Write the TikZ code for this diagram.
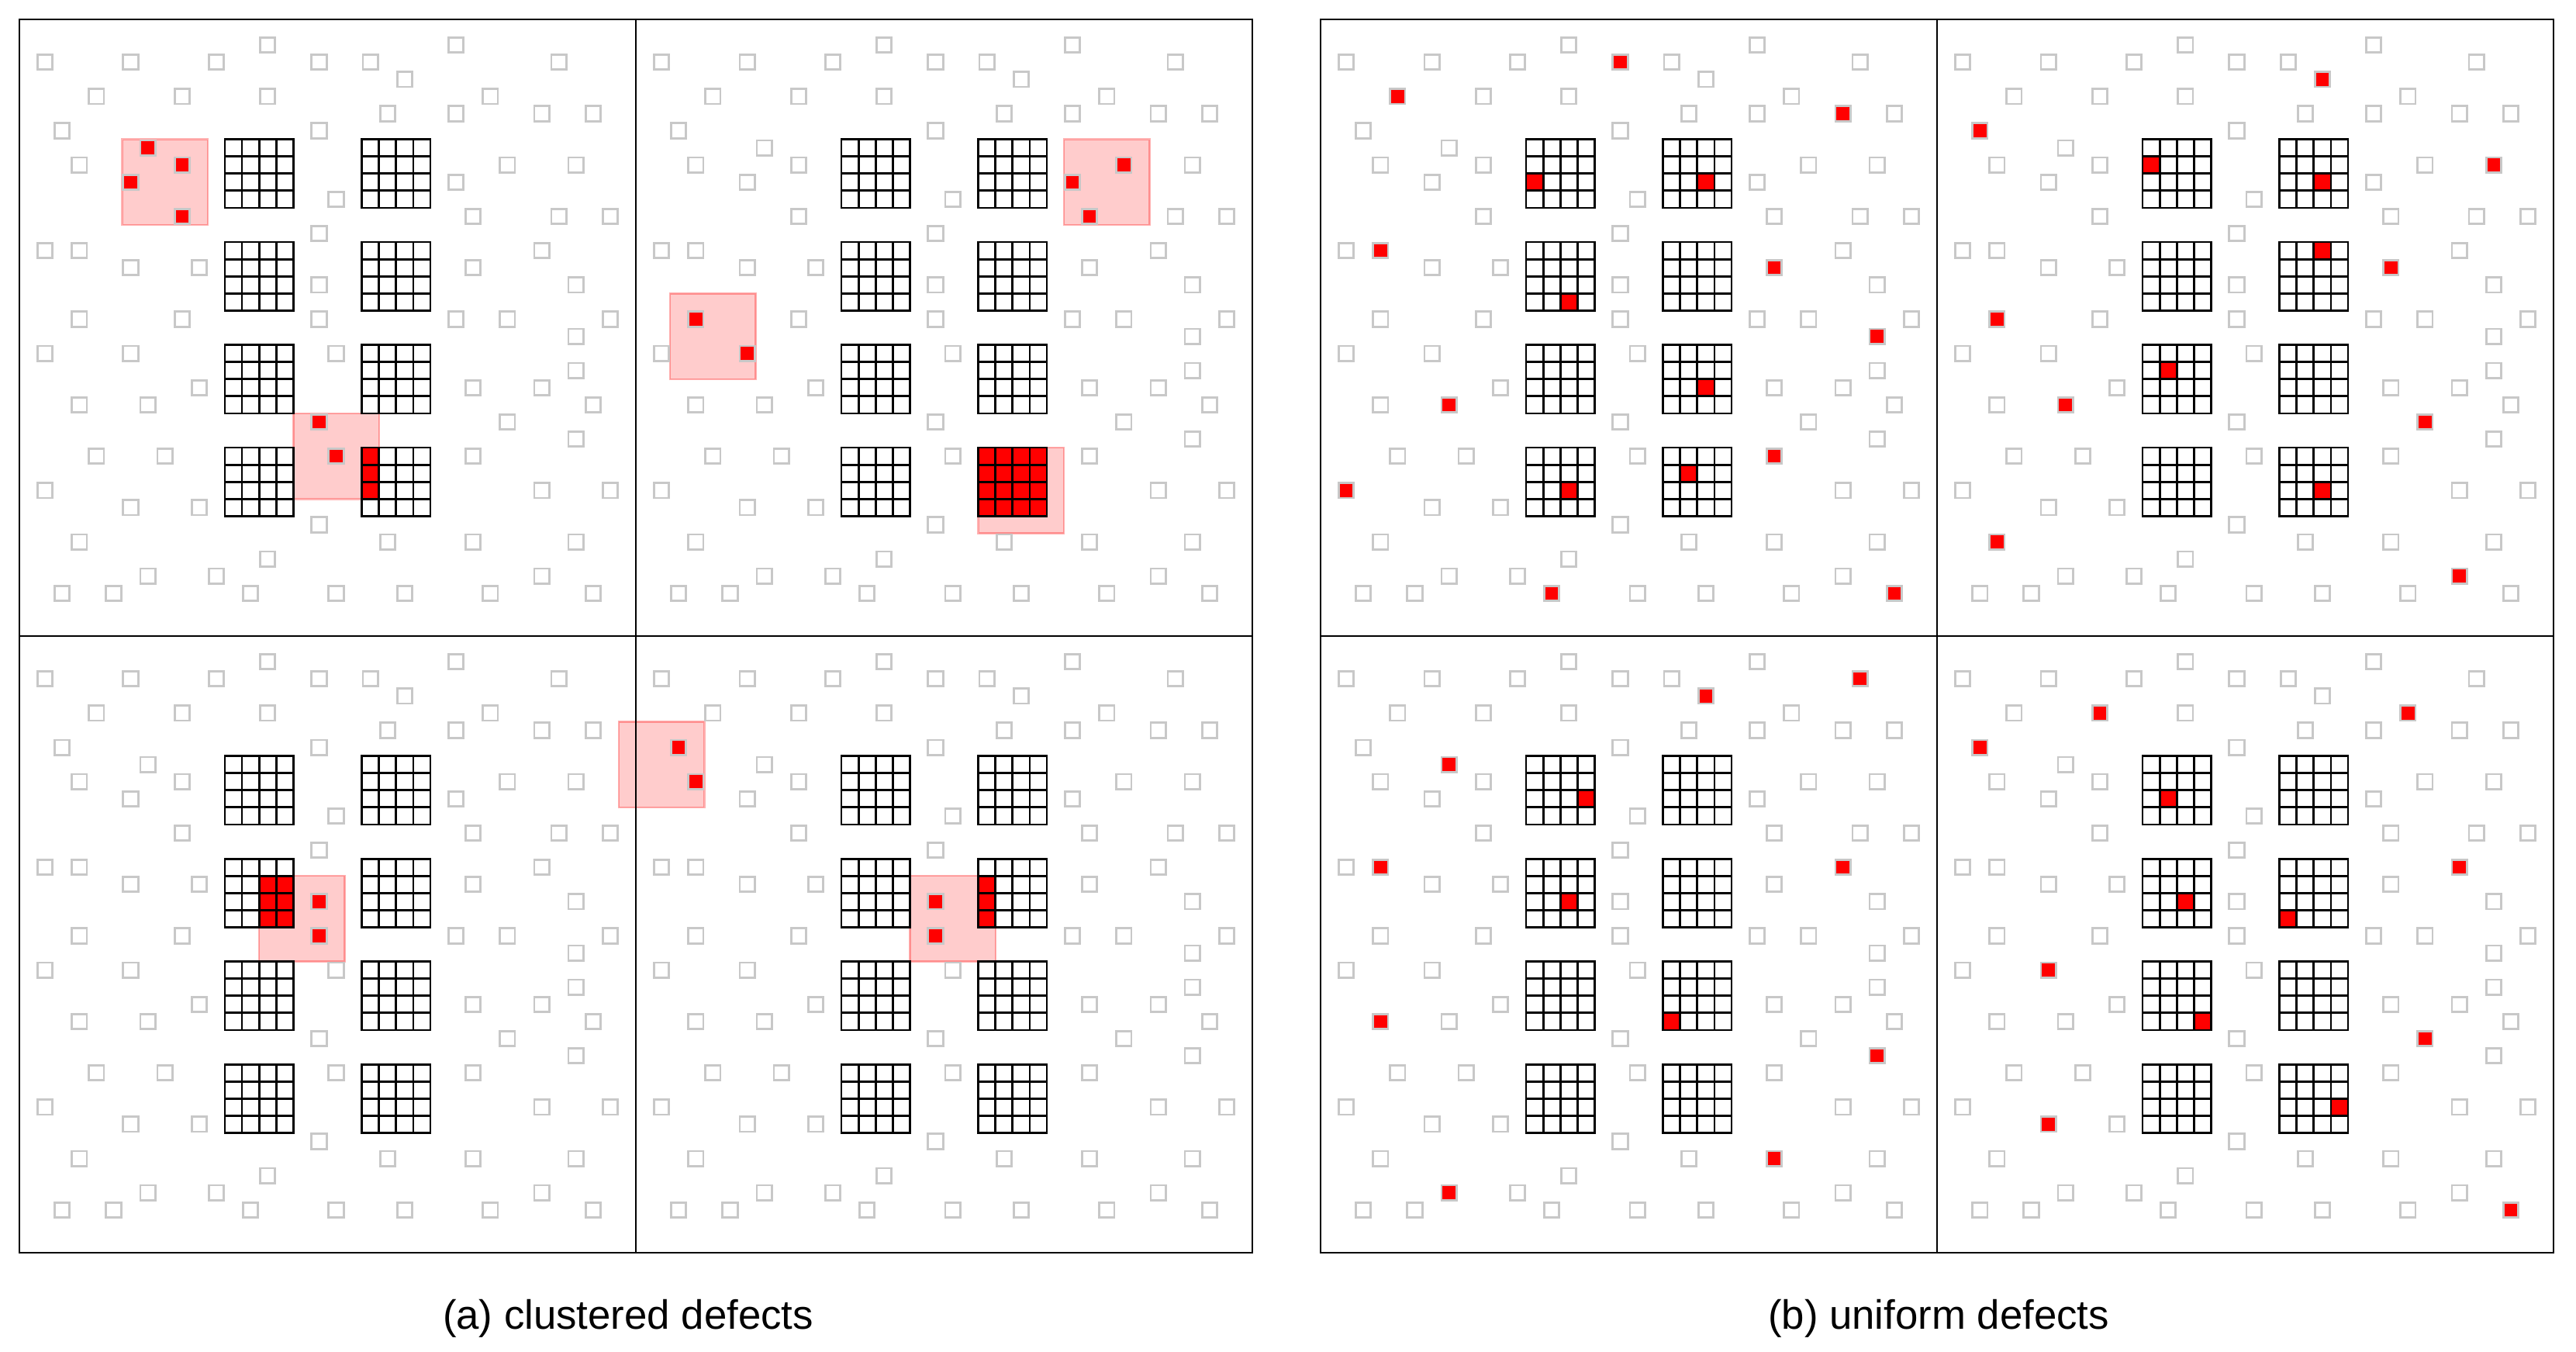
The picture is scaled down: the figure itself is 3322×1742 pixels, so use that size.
\documentclass[tikz,border=0pt]{standalone}
\usepackage{fontspec}
\setmainfont{Liberation Sans}
\definecolor{sqgrey}{RGB}{200,200,200}
\tikzset{
  greysq/.style={draw=sqgrey, line width=0.028cm},
  defect/.style={greysq, fill=red},
  gridline/.style={draw=black, line width=0.028cm, line cap=rect},
  cluster/.style={fill=red, fill opacity=0.2, draw=red, draw opacity=0.3, line width=0.024cm},
  frame/.style={draw=black, line width=0.025cm},
  caption/.style={font=\fontsize{15.0}{18}\selectfont, anchor=base, inner sep=0pt},
}
\def\greylist{14/1,25/1,1/2,6/2,11/2,17/2,20/2,31/2,22/3,4/4,9/4,14/4,27/4,21/5,25/5,30/5,33/5,2/6,17/6,7/7,3/8,9/8,28/8,32/8,6/9,25/9,18/10,9/11,26/11,31/11,34/11,17/12,1/13,3/13,30/13,6/14,10/14,26/14,17/15,32/15,3/17,9/17,17/17,25/17,28/17,34/17,32/18,1/19,6/19,18/19,32/20,10/21,26/21,30/21,3/22,7/22,33/22,17/23,28/23,32/24,4/25,8/25,18/25,26/25,1/27,30/27,34/27,6/28,10/28,17/29,3/30,21/30,26/30,32/30,14/31,7/32,11/32,30/32,2/33,5/33,13/33,18/33,22/33,27/33,33/33}
\newcommand\qgrey{%
  \foreach \c/\r in \greylist {\draw[greysq] (\c+0.063,\r+0.063) rectangle (\c+0.937,\r+0.937);}}
\newcommand\qgrids{%
  \foreach \gx in {12,20} {\foreach \gy in {7,13,19,25} {\foreach \k in {0,...,4} {
    \draw[gridline] (\gx+\k,\gy) -- (\gx+\k,\gy+4);
    \draw[gridline] (\gx,\gy+\k) -- (\gx+4,\gy+\k);}}}}
\newcommand\qdefects[1]{%
  \foreach \c/\r in {#1} {\draw[defect] (\c+0.063,\r+0.063) rectangle (\c+0.937,\r+0.937);}}
\newcommand\qcells[1]{%
  \foreach \c/\r in {#1} {\fill[red] (\c,\r) rectangle (\c+1,\r+1);}}
\newcommand\qboxes[1]{%
  \foreach \c/\r in {#1} {\draw[cluster] (\c,\r) rectangle (\c+5,\r+5);}}
\begin{document}
\begin{tikzpicture}[x=0.01cm, y=-0.01cm]
\useasboundingbox (0,0) rectangle (3322,1742);
\fill[white] (0,0) rectangle (3322,1742);
% ---------- (a) clustered defects ----------
\begin{scope}[shift={(25,25)}, scale=22.0833]
  \qboxes{6/7,16/23}
  \qgrey
  \qdefects{7/7,9/8,6/9,9/11,17/23,18/25}
  \qcells{20/25,20/26,20/27}
  \qgrids
\end{scope}
\begin{scope}[shift={(820,25)}, scale=22.0833]
  \qboxes{25/7,2/16,20/25}
  \qgrey
  \qdefects{28/8,25/9,26/11,3/17,6/19}
  \qcells{20/25,21/25,22/25,23/25,20/26,21/26,22/26,23/26,20/27,21/27,22/27,23/27,20/28,21/28,22/28,23/28}
  \qgrids
\end{scope}
\begin{scope}[shift={(25,820)}, scale=22.0833]
  \qboxes{14/14,35/5}
  \qgrey
  \qdefects{17/15,17/17}
  \qcells{14/14,15/14,14/15,15/15,14/16,15/16}
  \qgrids
\end{scope}
\begin{scope}[shift={(820,820)}, scale=22.0833]
  \qboxes{16/14}
  \qgrey
  \qdefects{2/6,3/8,17/15,17/17}
  \qcells{20/14,20/15,20/16}
  \qgrids
\end{scope}
\draw[frame] (25,25) rectangle (1615,1615);
\draw[frame] (820,25) -- (820,1615);
\draw[frame] (25,820) -- (1615,820);
% ---------- (b) uniform defects ----------
\begin{scope}[shift={(1703,25)}, scale=22.0833]
  \qgrey
  \qdefects{17/2,4/4,30/5,3/13,26/14,32/18,7/22,26/25,1/27,13/33,33/33}
  \qcells{12/9,22/9,14/16,22/21,21/26,14/27}
  \qgrids
\end{scope}
\begin{scope}[shift={(2498,25)}, scale=22.0833]
  \qgrey
  \qdefects{22/3,2/6,32/8,26/14,3/17,7/22,28/23,3/30,30/32}
  \qcells{12/8,22/9,22/13,13/20,22/27}
  \qgrids
\end{scope}
\begin{scope}[shift={(1703,820)}, scale=22.0833]
  \qgrey
  \qdefects{31/2,22/3,7/7,3/13,30/13,3/22,32/24,26/30,7/32}
  \qcells{15/9,14/15,20/22}
  \qgrids
\end{scope}
\begin{scope}[shift={(2498,820)}, scale=22.0833]
  \qgrey
  \qdefects{9/4,27/4,2/6,30/13,6/19,28/23,6/28,33/33}
  \qcells{13/9,14/15,20/16,15/22,23/27}
  \qgrids
\end{scope}
\draw[frame] (1703,25) rectangle (3293,1615);
\draw[frame] (2498,25) -- (2498,1615);
\draw[frame] (1703,820) -- (3293,820);
% ---------- captions ----------
\node[caption] (capa) at (810,1713) {(a) clustered defects};
\node[caption] (capb) at (2500,1713) {(b) uniform defects};
\end{tikzpicture}
\end{document}
